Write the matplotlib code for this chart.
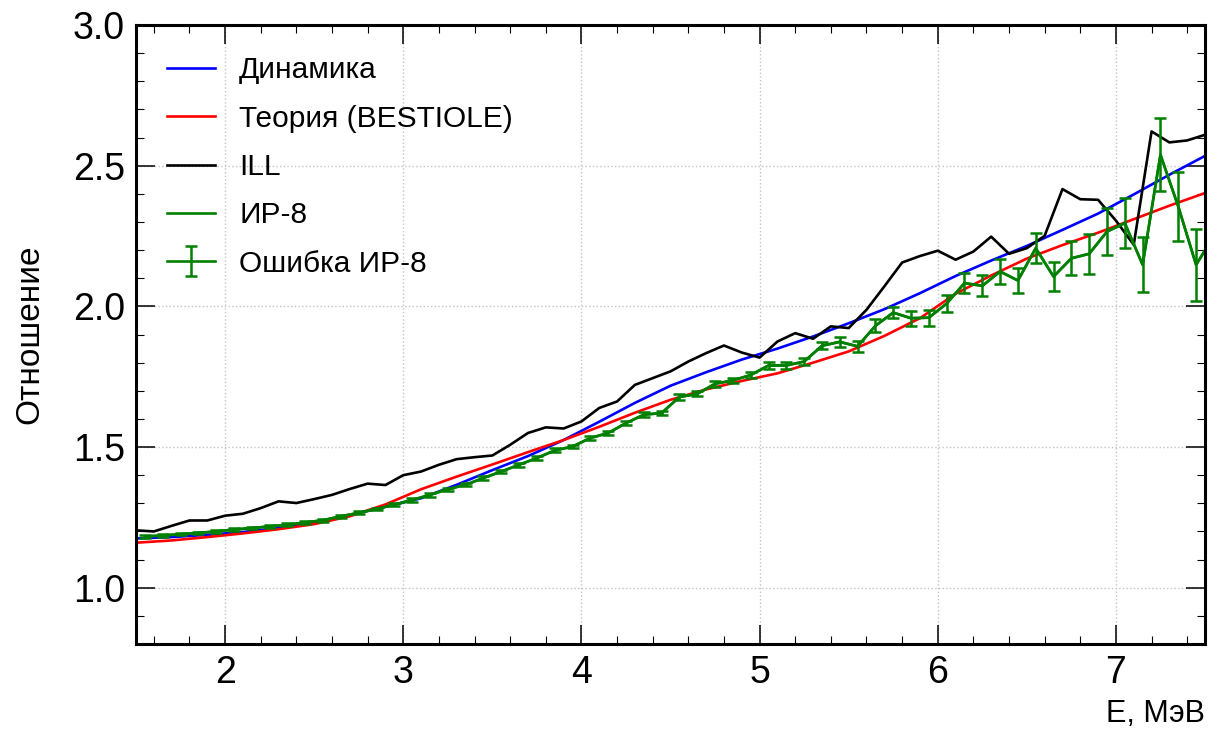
import matplotlib
matplotlib.use('Agg')
import matplotlib.pyplot as plt
from matplotlib.ticker import MultipleLocator
import numpy as np

plt.rcParams['font.family'] = ['Liberation Sans', 'DejaVu Sans']

# энергетическая сетка расчётных кривых
e_model = np.round(np.arange(1.5, 7.51, 0.2), 2)
dynamics = [1.175, 1.180, 1.188, 1.198, 1.212, 1.232, 1.258, 1.288, 1.318, 1.366,
            1.418, 1.468, 1.525, 1.590, 1.657, 1.718, 1.766, 1.811, 1.850, 1.893,
            1.940, 1.990, 2.047, 2.108, 2.163, 2.215, 2.272, 2.330, 2.398, 2.468,
            2.535]
bestiole = [1.160, 1.168, 1.180, 1.193, 1.208, 1.226, 1.254, 1.296, 1.350, 1.395,
            1.438, 1.482, 1.525, 1.572, 1.622, 1.668, 1.705, 1.735, 1.762, 1.800,
            1.840, 1.895, 1.958, 2.045, 2.110, 2.170, 2.218, 2.262, 2.310, 2.358,
            2.403]

# ILL
e_ill = np.round(np.arange(1.5, 7.51, 0.1), 2)
ill = [1.204, 1.200, 1.220, 1.239, 1.239, 1.256, 1.263, 1.283, 1.307, 1.301,
       1.315, 1.330, 1.351, 1.370, 1.365, 1.400, 1.413, 1.437, 1.457, 1.464,
       1.470, 1.508, 1.550, 1.570, 1.566, 1.591, 1.639, 1.662, 1.721, 1.745,
       1.769, 1.804, 1.834, 1.861, 1.836, 1.818, 1.875, 1.905, 1.885, 1.929,
       1.923, 1.988, 2.071, 2.156, 2.179, 2.198, 2.166, 2.195, 2.248, 2.187,
       2.207, 2.251, 2.417, 2.381, 2.379, 2.305, 2.219, 2.622, 2.583, 2.590,
       2.610]

# ИР-8 (центры бинов)
e_ir8 = np.round(np.arange(1.55, 7.56, 0.1), 2)
ir8 = [1.182, 1.186, 1.190, 1.195, 1.200, 1.207, 1.212, 1.218, 1.224, 1.232,
       1.240, 1.254, 1.266, 1.280, 1.295, 1.312, 1.330, 1.350, 1.366, 1.390,
       1.413, 1.437, 1.461, 1.488, 1.502, 1.532, 1.550, 1.585, 1.615, 1.621,
       1.678, 1.689, 1.725, 1.737, 1.756, 1.790, 1.790, 1.804, 1.860, 1.874,
       1.858, 1.931, 1.978, 1.958, 1.960, 2.010, 2.083, 2.073, 2.124, 2.092,
       2.207, 2.106, 2.171, 2.187, 2.266, 2.296, 2.148, 2.539, 2.355, 2.148,
       2.250]
ir8_err = [0.004, 0.004, 0.004, 0.004, 0.004, 0.004, 0.004, 0.004, 0.005, 0.005,
           0.005, 0.005, 0.005, 0.005, 0.005, 0.006, 0.006, 0.006, 0.006, 0.006,
           0.006, 0.007, 0.007, 0.007, 0.007, 0.007, 0.008, 0.008, 0.008, 0.008,
           0.009, 0.009, 0.010, 0.010, 0.010, 0.011, 0.011, 0.012, 0.013, 0.018,
           0.019, 0.023, 0.020, 0.027, 0.028, 0.030, 0.034, 0.037, 0.043, 0.043,
           0.053, 0.051, 0.061, 0.072, 0.083, 0.090, 0.097, 0.129, 0.124, 0.128,
           0.140]

fig = plt.figure(figsize=(12.2, 7.38), dpi=100)
ax = fig.add_axes([0.1115, 0.1274, 0.8762, 0.8386])

lw = 1.9
ax.plot(e_model, dynamics, color='blue', lw=lw, label='Динамика')
ax.plot(e_model, bestiole, color='red', lw=lw, label='Теория (BESTIOLE)')
ax.plot(e_ill, ill, color='black', lw=lw, label='ILL')
ax.plot(e_ir8, ir8, color='green', lw=lw, label='ИР-8')
ax.errorbar(e_ir8, ir8, yerr=ir8_err, color='green', lw=lw, elinewidth=1.8,
            capsize=4, capthick=1.8, label='Ошибка ИР-8')

ax.set_xlim(1.5, 7.5)
ax.set_ylim(0.8, 3.0)
ax.xaxis.set_major_locator(MultipleLocator(1))
ax.xaxis.set_minor_locator(MultipleLocator(0.2))
ax.yaxis.set_major_locator(MultipleLocator(0.5))
ax.yaxis.set_minor_locator(MultipleLocator(0.1))

ax.tick_params(which='both', direction='in', top=True, right=True, labelsize=27)
ax.tick_params(which='major', length=14, width=1.1, pad=8)
ax.tick_params(which='minor', length=6, width=0.8)
for s in ax.spines.values():
    s.set_linewidth(2.2)

ax.grid(True, which='major', linestyle=':', color='#c4c4c4', lw=1)

ax.set_xlabel('E, МэВ', fontsize=22, loc='right', labelpad=6)
ax.set_ylabel('Отношение', fontsize=24, labelpad=20)

ax.legend(loc='upper left', frameon=False, fontsize=21.5, handlelength=1.6,
          handletextpad=0.8, labelspacing=0.68, borderaxespad=0.65)

fig.savefig('out.png', dpi=100)
